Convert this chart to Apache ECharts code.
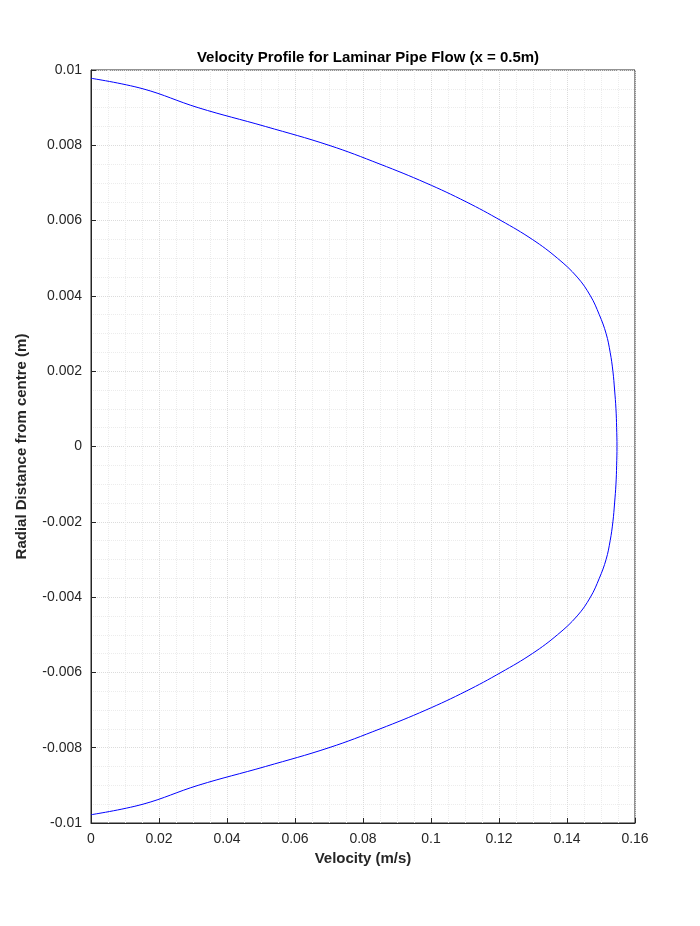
<!DOCTYPE html>
<html><head><meta charset="utf-8">
<script src="https://cdn.jsdelivr.net/npm/echarts@6/dist/echarts.min.js"></script>
<style>html,body{margin:0;padding:0;background:#fff}#c{width:700px;height:926px}</style>
</head><body><div id="c"></div>
<script>
const radiusUpper = [0.00978,0.0095,0.009,0.0085,0.008,0.0075,0.007,0.0065,0.006,0.0055,0.005,0.0045,0.004,0.0035,0.003,0.0025,0.002,0.0015,0.001,0.0005,0];
const velocityUpper = [0,0.0153,0.0315,0.0513,0.0700,0.0850,0.0985,0.1103,0.1206,0.1298,0.1372,0.1430,0.1469,0.1495,0.1515,0.1527,0.1535,0.1540,0.1544,0.1546,0.1547];
const pts = [];
for (let i=0;i<radiusUpper.length;i++) pts.push([velocityUpper[i], radiusUpper[i]]);
for (let i=radiusUpper.length-2;i>=0;i--) pts.push([velocityUpper[i], -radiusUpper[i]]);
const chart = echarts.init(document.getElementById('c'));
const gridLine = {show:true, lineStyle:{color:'#dcdcdc', type:'dotted', width:1}};
const minorLine = {show:true, lineStyle:{color:'#ececec', type:'dotted', width:1}};
chart.setOption({
  animation:false,
  title:{text:'Velocity Profile for Laminar Pipe Flow (x = 0.5m)', left:363, top:45, textAlign:'center',
    textStyle:{fontFamily:'Liberation Sans', fontSize:15, fontWeight:'bold', color:'#000'}},
  grid:{left:91, right:65, top:70, bottom:103, show:true, borderColor:'#262626', borderWidth:1},
  xAxis:{type:'value', min:0, max:0.16, interval:0.02, minorTick:{show:true, splitNumber:4, length:0},
    name:'Velocity (m/s)', nameLocation:'middle', nameGap:28,
    nameTextStyle:{fontFamily:'Liberation Sans', fontSize:15, fontWeight:'bold', color:'#262626'},
    axisLine:{onZero:false, lineStyle:{color:'#262626'}}, axisTick:{inside:true, length:5},
    axisLabel:{fontFamily:'Liberation Sans', fontSize:14, color:'#262626', margin:9},
    splitLine:gridLine, minorSplitLine:minorLine},
  yAxis:{type:'value', min:-0.01, max:0.01, interval:0.002, minorTick:{show:true, splitNumber:4, length:0},
    name:'Radial Distance from centre (m)', nameLocation:'middle', nameGap:62,
    nameTextStyle:{fontFamily:'Liberation Sans', fontSize:15, fontWeight:'bold', color:'#262626'},
    axisLine:{onZero:false, lineStyle:{color:'#262626'}}, axisTick:{inside:true, length:5},
    axisLabel:{fontFamily:'Liberation Sans', fontSize:14, color:'#262626', margin:9},
    splitLine:gridLine, minorSplitLine:minorLine},
  series:[{type:'line', data:pts, smooth:0.4, showSymbol:false, lineStyle:{color:'#0000ff', width:1}}]
});
</script></body></html>
